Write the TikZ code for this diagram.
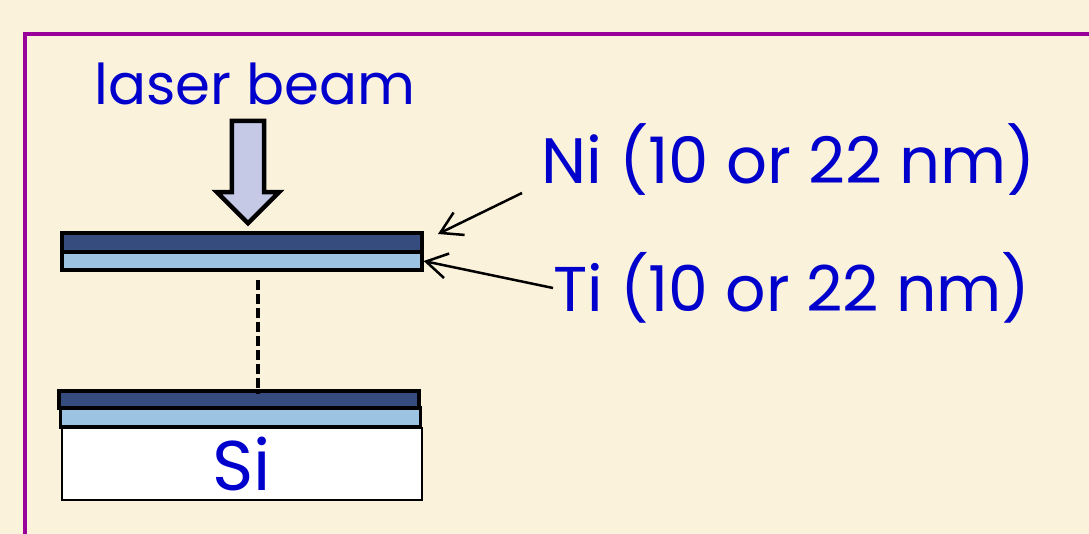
\documentclass[tikz,border=0pt]{standalone}
\usepackage{fontspec}
\setmainfont{Poppins}
\usetikzlibrary{arrows.meta,shapes.arrows}
\definecolor{paper}{HTML}{FBF2DC}
\definecolor{framec}{HTML}{990099}
\definecolor{textc}{HTML}{0000CC}
\definecolor{nic}{HTML}{364B7E}
\definecolor{tic}{HTML}{9DC3E2}
\definecolor{beamc}{HTML}{C5C9E6}
\tikzset{
  layer/.style={draw=black, line width=0.065cm, minimum width=7.2cm, minimum height=#1, inner sep=0pt},
  lbl/.style={text=textc, font=\fontsize{36}{40}\selectfont, inner sep=0pt},
  pointer/.style={line width=0.05cm, -{Straight Barb[length=0.42cm,width=0.5cm,line width=0.05cm]}}
}
\begin{document}
\begin{tikzpicture}
  \useasboundingbox (0,0) rectangle (21.78,10.68);
  \fill[paper] (0,0) rectangle (21.78,10.68);
  % frame runs off the page on two sides
  \draw[framec, line width=0.09cm] (0.5,0) -- (0.5,10) -- (21.78,10);

  \node[lbl, font=\fontsize{32}{36}\selectfont] (laser) at (5.1,9.0) {laser beam};
  \node[single arrow, draw=black, fill=beamc, line width=0.09cm, rotate=-90,
        minimum width=1.25cm, minimum height=2.05cm, inner sep=0.24cm,
        single arrow head extend=0.27cm, single arrow head indent=0pt] (beam) at (4.96,7.4) {};

  % top film
  \node[layer=0.38cm, fill=nic] (nitop) at (4.84,5.83) {};
  \node[layer=0.36cm, fill=tic] (titop) at (4.84,5.46) {};

  % film on substrate
  \node[layer=0.34cm, fill=nic] (nibot) at (4.78,2.69) {};
  \node[layer=0.38cm, fill=tic] (tibot) at (4.81,2.33) {};
  \node[layer=1.44cm, fill=white, lbl, line width=0.05cm, font=\fontsize{40}{44}\selectfont] (si) at (4.84,1.40) {Si};

  \node[lbl, anchor=west, font=\fontsize{36.5}{40}\selectfont] (nilabel) at (10.82,7.49) {Ni (10 or 22 nm)};
  \node[lbl, anchor=west] (tilabel) at (11.06,4.92) {Ti (10 or 22 nm)};

  \coordinate (nistart) at (10.44,6.82);
  \coordinate (niend) at (8.76,6.0);
  \coordinate (dashtop) at (5.16,5.08);
  \coordinate (dashbot) at (5.16,2.8);

  \draw[pointer] (nistart) -- (niend);
  \draw[pointer] (tilabel.west) -- (titop.east);
  \draw[line width=0.07cm, dash pattern=on 0.2cm off 0.08cm] (dashtop) -- (dashbot);
\end{tikzpicture}
\end{document}
